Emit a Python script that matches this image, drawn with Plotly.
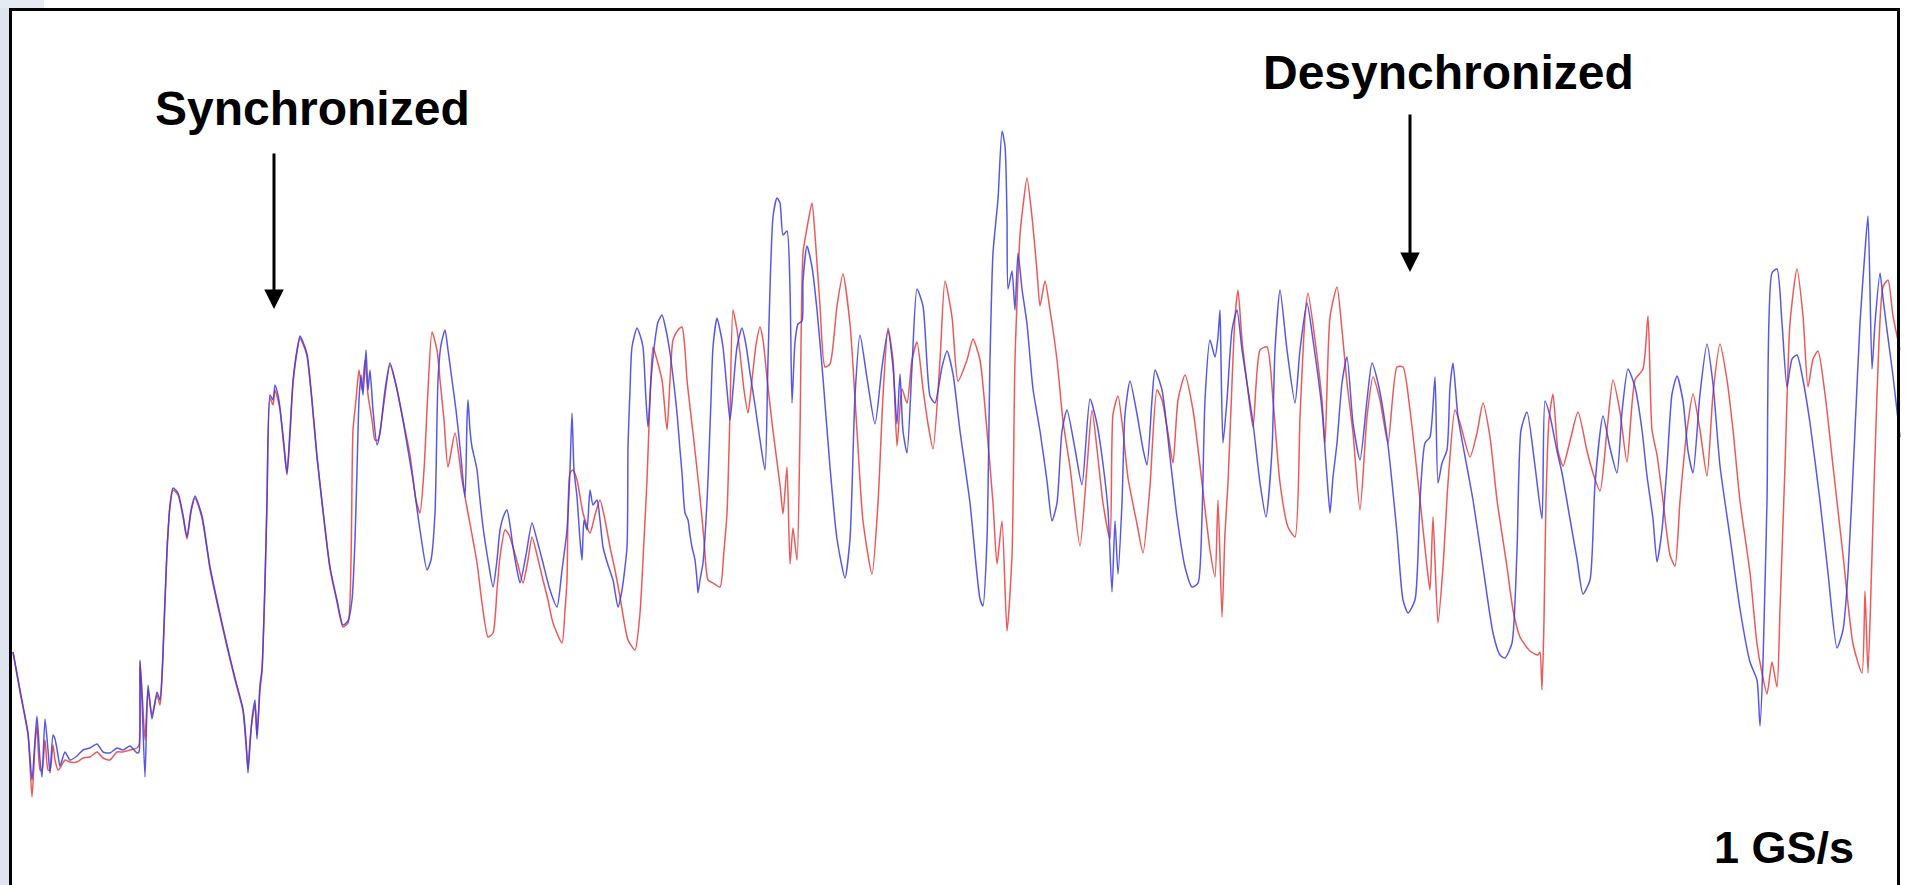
import plotly.graph_objects as go

# Time axis in samples (1 GS/s -> 1 sample per ns), amplitude in arbitrary units.
blue_t = [0, 7, 15, 19, 22, 24, 27, 29, 32, 35, 37, 40, 42, 45, 47, 52, 57, 64, 70, 77, 84, 90, 97, 104, 110, 117, 124, 126, 127, 129, 132, 135, 139, 144, 147, 149, 150, 154, 157, 160, 165, 170, 174, 178, 182, 189, 197, 205, 214, 222, 230, 233, 235, 237, 239, 242, 244, 247, 249, 252, 254, 257, 260, 262, 265, 267, 271, 274, 277, 280, 284, 287, 290, 294, 299, 304, 310, 317, 324, 330, 335, 339,
          342, 344, 346, 348, 350, 353, 355, 357, 360, 364, 367, 372, 377, 383, 390, 395, 400, 407, 414, 418, 422, 425, 428, 432, 435, 439, 443, 447, 452, 454, 455, 457, 459, 462, 464, 467, 470, 475, 480, 484, 487, 491, 494, 497, 500, 504, 507, 513, 519, 524, 530, 537, 544, 549, 554, 557, 559, 561, 564, 567, 569, 571, 574, 577, 580, 584, 587, 590, 595, 600, 605, 609, 614, 615, 617, 619, 624, 627, 630, 633, 635, 638, 642, 645, 649, 653, 657, 661, 664, 667, 669, 672, 675, 677, 679, 682, 684, 685, 687, 690, 693, 695, 698, 700, 704, 707, 710, 714, 717, 720, 724, 729, 733, 737, 742, 747, 752,
          755, 760, 764, 767, 770, 774, 777, 779, 782, 785, 789, 790, 794, 799, 804, 810, 817, 824, 832, 837, 842, 847, 854, 862, 869, 875, 880, 884, 887, 890, 894, 899, 904, 910, 917, 922, 929, 934, 940, 947, 957, 967, 970, 974, 977, 980, 985, 989, 992, 994, 995, 999, 1002, 1005, 1009, 1014, 1020, 1027, 1034, 1039, 1044, 1049, 1054, 1062, 1069, 1077, 1084, 1090, 1095, 1099, 1102, 1105, 1109, 1112, 1117, 1124, 1130,
          1134, 1139, 1142, 1149, 1157, 1164, 1172, 1179, 1185, 1189, 1192, 1197, 1202, 1205, 1207, 1208, 1210, 1214, 1219, 1224, 1229, 1234, 1240, 1247, 1253, 1259, 1262, 1267, 1274, 1282, 1287, 1294, 1300, 1309, 1314, 1317, 1319, 1320, 1324, 1329, 1334, 1340, 1347, 1354, 1359, 1365, 1374, 1384, 1390, 1395, 1402, 1407, 1412, 1417, 1422, 1425, 1429, 1434, 1437, 1440, 1445, 1454, 1460, 1470, 1480, 1487, 1492, 1499, 1504, 1508,
          1514, 1522, 1529, 1532, 1537, 1544, 1549, 1557, 1564, 1570, 1577, 1582, 1590, 1597, 1604, 1609, 1615, 1622, 1629, 1634, 1640, 1644, 1649, 1654, 1659, 1664, 1670, 1675, 1680, 1687, 1694, 1700, 1707, 1717, 1727, 1737, 1744, 1747, 1750, 1754, 1759, 1764, 1769, 1774, 1779, 1784, 1790, 1797, 1807, 1815, 1824, 1830, 1835, 1842, 1847, 1852, 1855, 1859, 1862, 1867, 1870, 1874, 1880, 1887]
blue_v = [148, 110, 67, 20, 60, 84, 40, 23, 81, 50, 27, 65, 61, 45, 34, 48, 40, 44, 50, 52, 56, 48, 47, 52, 50, 54, 47, 48, 140, 100, 23, 115, 81, 108, 100, 125, 148, 250, 295, 312, 307, 285, 263, 290, 304, 284, 233, 195, 155, 122, 91, 60, 27, 55, 81, 100, 61, 115, 131, 220, 300, 405, 400, 415, 405, 392, 355, 327, 370, 419, 450, 464, 458, 446, 400, 344, 290, 233, 200, 175, 179, 200,
          260, 330, 400, 425, 405, 450, 410, 430, 390, 355, 367, 410, 437, 415, 380, 350, 320, 270, 230, 240, 287, 420, 455, 470, 450, 420, 390, 353, 303, 380, 400, 370, 353, 340, 330, 300, 273, 240, 213, 240, 270, 285, 290, 275, 253, 230, 217, 245, 277, 260, 237, 210, 193, 230, 270, 330, 387, 330, 303, 260, 240, 280, 270, 310, 295, 300, 280, 253, 235, 220, 193, 210, 253, 353, 410, 453, 472, 465, 453, 400, 373, 420, 460, 478, 485, 470, 447, 415, 387, 350, 327, 287, 280, 265, 253, 240, 220, 207, 220, 237, 280, 320, 400, 453, 482, 470, 453, 410, 380, 410, 453, 472, 455, 427, 395, 360, 330,
          440, 583, 602, 597, 565, 569, 511, 397, 458, 476, 479, 519, 554, 533, 490, 422, 333, 261, 222, 261, 404, 465, 422, 376, 433, 469, 433, 376, 426, 369, 347, 433, 511, 494, 404, 397, 433, 449, 426, 369, 297, 201, 194, 261, 440, 547, 601, 669, 654, 583, 511, 529, 490, 547, 511, 476, 411, 369, 319, 279, 297, 369, 390, 351, 315, 401, 376, 336, 290, 208, 279, 226, 297, 386, 419, 386, 351,
          335, 400, 430, 410, 343, 283, 233, 213, 217, 283, 400, 460, 443, 463, 490, 440, 357, 400, 470, 490, 450, 417, 377, 317, 283, 350, 450, 510, 450, 397, 450, 497, 460, 390, 323, 287, 310, 323, 357, 417, 443, 377, 340, 400, 437, 417, 363, 267, 200, 187, 200, 300, 357, 363, 423, 317, 337, 350, 413, 437, 383, 333, 300, 233, 167, 145, 142, 157, 250, 370,
          388, 334, 281, 399, 384, 349, 327, 281, 241, 206, 220, 316, 384, 352, 327, 388, 431, 413, 370, 324, 281, 238, 270, 334, 406, 424, 399, 349, 327, 406, 456, 416, 334, 263, 191, 138, 120, 74, 138, 299, 527, 531, 477, 413, 441, 445, 420, 377, 299, 227, 152, 170, 227, 370, 477, 549, 584, 431, 477, 527, 502, 470, 424, 363]

red_t = [0, 7, 15, 19, 22, 24, 27, 29, 32, 35, 37, 40, 42, 45, 47, 52, 57, 64, 70, 77, 84, 90, 97, 104, 110, 117, 124, 126, 127, 129, 132, 135, 139, 144, 147, 149, 150, 154, 157, 160, 165, 170, 174, 178, 182, 189, 197, 205, 214, 222, 230, 233, 235, 237, 239, 242, 244, 247, 249, 252, 254, 257, 260, 262, 265, 267, 271, 274, 277, 280, 284, 287, 290, 294, 299, 304, 310, 317, 324, 330, 335, 338,
         340, 343, 346, 349, 352, 355, 359, 362, 365, 370, 377, 383, 390, 397, 403, 407, 411, 415, 419, 424, 427, 431, 435, 442, 449, 455, 464, 469, 475, 480, 484, 487, 492, 496, 500, 505, 510, 515, 519, 524, 530, 535, 540, 549, 552, 554, 557, 560, 564, 570, 577, 582, 587, 592, 597, 602, 607, 615, 622, 627, 631, 634, 637, 640, 644, 649, 654, 657, 660, 665, 669, 672, 674, 680, 687, 691, 695, 700, 707, 711, 714, 717, 720, 724, 727, 731, 735, 739, 743, 747, 750, 754,
         760, 767, 770, 774, 777, 780, 784, 787, 790, 794, 799, 802, 807, 812, 817, 824, 830, 837, 844, 850, 859, 865, 870, 875, 880, 884, 889, 894, 899, 904, 910, 915, 920, 927, 932, 939, 945, 954, 960, 967, 974, 980, 984, 989, 994, 999, 1002, 1007, 1010, 1014, 1019, 1024, 1027, 1032, 1037, 1044, 1050, 1057, 1067, 1074, 1079, 1084, 1090, 1097, 1100, 1105, 1110, 1115, 1124, 1130,
         1137, 1144, 1149, 1155, 1160, 1165, 1172, 1180, 1189, 1197, 1202, 1205, 1209, 1212, 1215, 1219, 1222, 1225, 1229, 1234, 1240, 1247, 1254, 1260, 1267, 1275, 1282, 1287, 1292, 1295, 1302, 1309, 1312, 1317, 1324, 1329, 1334, 1340, 1347, 1354, 1360, 1367, 1375, 1384, 1390, 1397, 1407, 1414, 1417, 1420, 1425, 1430, 1435, 1442, 1447, 1457, 1464, 1470, 1477, 1484, 1494, 1500, 1507, 1517, 1525, 1527, 1529, 1531, 1533, 1536,
         1540, 1545, 1550, 1557, 1565, 1574, 1580, 1587, 1594, 1600, 1607, 1614, 1622, 1630, 1635, 1639, 1644, 1650, 1657, 1662, 1667, 1674, 1680, 1687, 1694, 1700, 1707, 1714, 1720, 1727, 1737, 1744, 1749, 1754, 1759, 1764, 1767, 1772, 1777, 1784, 1790, 1795, 1800, 1805, 1812, 1820, 1830, 1840, 1849, 1852, 1855, 1859, 1864, 1870, 1875, 1880, 1887]
red_v = [148, 108, 65, 3, 55, 75, 30, 30, 60, 30, 30, 55, 40, 30, 32, 40, 38, 38, 42, 43, 48, 42, 40, 48, 48, 50, 52, 55, 138, 110, 60, 110, 85, 105, 95, 122, 145, 248, 293, 310, 305, 283, 261, 288, 302, 282, 231, 193, 153, 120, 89, 55, 32, 60, 78, 95, 65, 110, 128, 215, 297, 402, 395, 410, 400, 390, 352, 325, 365, 416, 448, 462, 456, 444, 398, 342, 288, 231, 198, 173, 177, 240,
         370, 400, 430, 410, 440, 405, 380, 360, 360, 390, 435, 415, 380, 345, 300, 287, 330, 410, 468, 450, 420, 380, 333, 367, 320, 287, 237, 197, 163, 167, 210, 243, 270, 265, 253, 235, 217, 240, 263, 245, 220, 200, 177, 157, 190, 220, 327, 330, 320, 287, 267, 285, 300, 280, 253, 230, 203, 160, 150, 187, 260, 320, 400, 453, 440, 420, 370, 420, 460, 470, 473, 450, 420, 367, 303, 260, 220, 217, 213, 250, 287, 387, 490, 470, 447, 410, 387, 420, 455, 473, 460, 422,
         369, 315, 286, 333, 236, 272, 240, 369, 547, 572, 597, 565, 494, 433, 436, 494, 526, 476, 369, 279, 226, 297, 404, 472, 440, 354, 411, 397, 440, 458, 411, 376, 351, 440, 519, 483, 419, 440, 461, 440, 369, 297, 236, 279, 169, 244, 440, 565, 594, 622, 583, 529, 494, 519, 490, 440, 379, 333, 254, 333, 390, 351, 297, 261, 386, 404, 369, 322, 276, 247,
         314, 410, 400, 367, 337, 400, 425, 390, 317, 250, 223, 300, 183, 267, 317, 417, 483, 510, 460, 417, 373, 450, 453, 400, 317, 273, 263, 383, 483, 507, 460, 400, 357, 483, 513, 470, 417, 367, 290, 383, 423, 400, 357, 433, 433, 390, 300, 233, 210, 283, 177, 233, 317, 390, 377, 343, 367, 397, 363, 300, 233, 190, 163, 149, 145, 148, 110, 180, 300, 380,
         406, 349, 334, 359, 388, 349, 327, 309, 370, 420, 388, 338, 420, 431, 484, 370, 345, 299, 245, 234, 299, 370, 406, 370, 324, 406, 456, 420, 370, 299, 227, 156, 127, 106, 138, 113, 191, 334, 477, 531, 484, 413, 441, 449, 406, 334, 245, 156, 127, 209, 127, 245, 406, 513, 520, 484, 450]

labels = {"sync": "Synchronized", "desync": "Desynchronized", "rate": "1 GS/s"}

BLUE = "rgb(60,60,228)"
RED = "rgb(235,72,72)"
BOLD = dict(family="Liberation Sans, Arial, sans-serif", size=48, color="black", weight="bold")

fig = go.Figure()
fig.add_trace(go.Scatter(x=red_t, y=red_v, mode="lines",
                         line=dict(color=RED, width=1.5, shape="spline", smoothing=0.6),
                         opacity=0.9, hoverinfo="skip", showlegend=False))
fig.add_trace(go.Scatter(x=blue_t, y=blue_v, mode="lines",
                         line=dict(color=BLUE, width=1.5, shape="spline", smoothing=0.6),
                         opacity=0.85, hoverinfo="skip", showlegend=False))

W, H = 1909, 885
fig.update_layout(
    width=W, height=H, autosize=False,
    margin=dict(l=0, r=0, t=0, b=0, pad=0),
    paper_bgcolor="white", plot_bgcolor="white",
    xaxis=dict(range=[-13, 1896], visible=False, showgrid=False, zeroline=False, fixedrange=True),
    yaxis=dict(range=[-85, 800], visible=False, showgrid=False, zeroline=False, fixedrange=True),
    showlegend=False,
)

# slide background strip on the left, and the black frame around the waveform
fig.add_shape(type="rect", xref="paper", yref="paper", x0=0, x1=9 / W, y0=0, y1=1,
              fillcolor="#dfe4ee", line=dict(width=0), layer="above")
fig.add_shape(type="rect", xref="paper", yref="paper", x0=0, x1=44 / W, y0=1 - 8 / H, y1=1,
              fillcolor="#e6eaf2", line=dict(width=0), layer="above")
fig.add_shape(type="rect", xref="paper", yref="paper", x0=10.5 / W, x1=1898.5 / W,
              y0=-0.05, y1=1 - 9.5 / H, line=dict(color="black", width=3), layer="above")

# text labels
fig.add_annotation(x=299, y=692, xref="x", yref="y", text=labels["sync"], showarrow=False,
                   font=BOLD, xanchor="center", yanchor="middle")
fig.add_annotation(x=1435, y=728, xref="x", yref="y", text=labels["desync"], showarrow=False,
                   font=BOLD, xanchor="center", yanchor="middle")
fig.add_annotation(x=1771, y=-47, xref="x", yref="y", text=labels["rate"], showarrow=False,
                   font=dict(BOLD, size=45), xanchor="center", yanchor="middle")

# arrows pointing at the two regions
for tip_t, tip_v, length in [(261, 491, 157), (1397, 528, 159)]:
    fig.add_annotation(x=tip_t, y=tip_v, xref="x", yref="y", text="", showarrow=True,
                       ax=0, ay=-length, arrowhead=2, arrowsize=1.3, arrowwidth=3,
                       arrowcolor="black", standoff=0)

fig.write_html("out.html")
